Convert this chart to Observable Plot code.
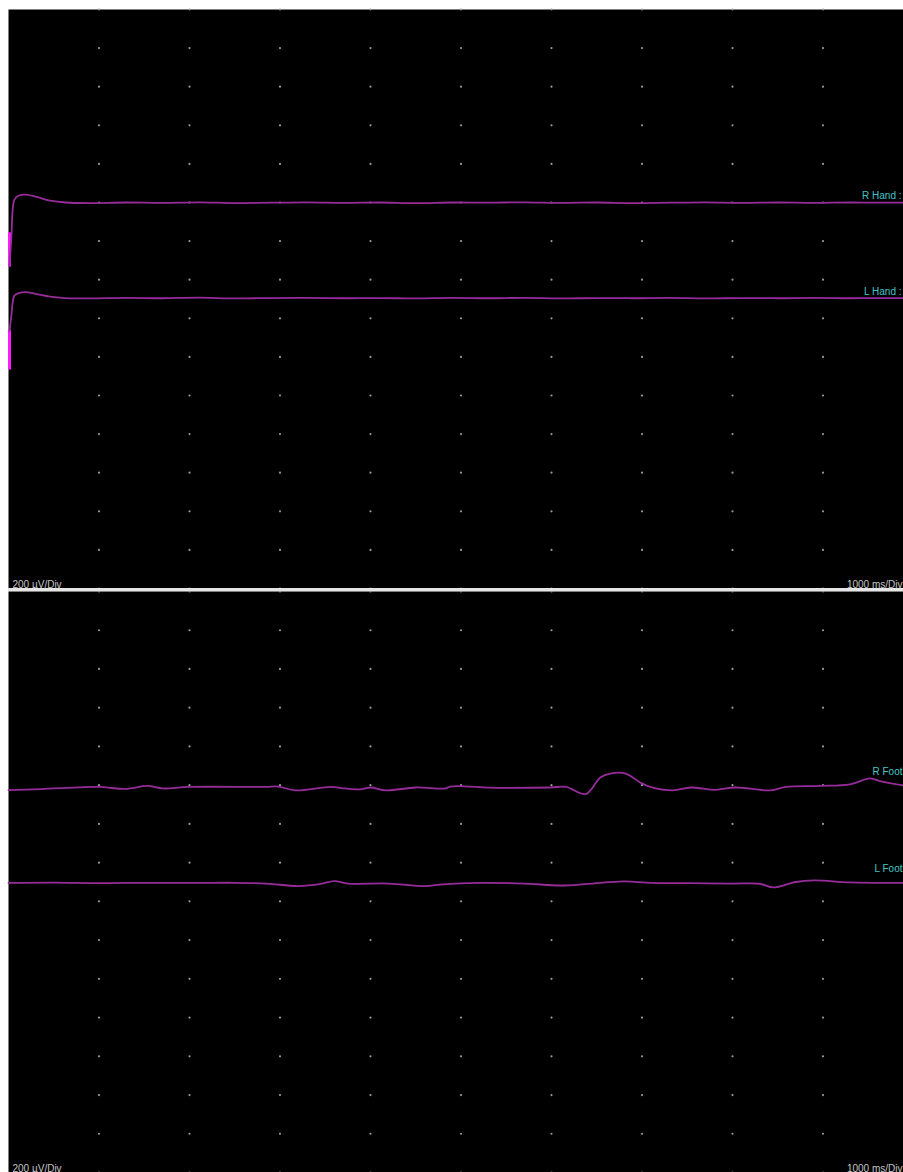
<!DOCTYPE html>
<html>
<head>
<meta charset="utf-8">
<script src="https://cdn.jsdelivr.net/npm/d3@7"></script>
<script src="https://cdn.jsdelivr.net/npm/@observablehq/plot@0.6"></script>
<style>
  html, body { margin: 0; padding: 0; background: #ffffff; }
  #chart { width: 903px; height: 1172px; overflow: hidden; position: relative; }
  #chart svg { display: block; }
  .sep { height: 3px; background: #e4e4e4; margin-left: 8px; }
</style>
</head>
<body>
<div id="chart"></div>
<script>
// ---- axes: 1000 ms/Div (10 divisions), 200 µV/Div (15 divisions per panel)
const timeDivisions = [1000, 2000, 3000, 4000, 5000, 6000, 7000, 8000, 9000];
const voltDivisions = [-1500, -1300, -1100, -900, -700, -500, -300, -100, 100, 300, 500, 700, 900, 1100, 1300, 1500];
const timeDomain = [0, 10000];
const voltDomain = [-1500, 1500];
const voltScaleLabel = "200 µV/Div";
const timeScaleLabel = "1000 ms/Div";

// ---- channel traces: [time ms, µV]
const rHand = [
  [11, 170], [33, 330], [44, 450], [66, 515], [110, 535], [190, 541], [300, 530], [460, 510], [630, 500],
  [900, 497], [1300, 500], [1700, 498], [2100, 501], [2500, 497], [2900, 499], [3300, 501], [3700, 498],
  [4100, 500], [4500, 497], [4900, 500], [5300, 499], [5700, 501], [6100, 498], [6500, 500], [6900, 497],
  [7300, 499], [7700, 501], [8100, 498], [8500, 500], [8900, 498], [9300, 500], [9700, 499], [10000, 500]
];
const lHand = [
  [11, -165], [33, -80], [44, -25], [66, 18], [110, 30], [190, 36], [300, 27], [460, 12], [630, 5],
  [900, 3], [1300, 6], [1700, 4], [2100, 7], [2500, 3], [2900, 5], [3300, 6], [3700, 4],
  [4100, 5], [4500, 3], [4900, 6], [5300, 4], [5700, 6], [6100, 3], [6500, 5], [6900, 4],
  [7300, 6], [7700, 3], [8100, 5], [8500, 4], [8900, 6], [9300, 4], [9700, 5], [10000, 4]
];
const rFoot = [
  [0, 474], [280, 478], [990, 491], [1290, 481], [1540, 496], [1700, 483], [1990, 491], [2840, 491],
  [2980, 493], [3170, 473], [3560, 491], [3720, 483], [3890, 478], [4000, 488], [4170, 473], [4500, 488],
  [4830, 483], [4880, 493], [5400, 486], [5990, 488], [6160, 491], [6380, 454], [6540, 540], [6650, 560],
  [6820, 560], [6980, 514], [7090, 491], [7340, 473], [7540, 488], [7810, 476], [8030, 488], [8420, 473],
  [8590, 491], [8970, 496], [9300, 504], [9520, 535], [9640, 519], [9890, 499], [10000, 495]
];
const lFoot = [
  [0, -5], [500, -3], [1000, -6], [1500, -4], [2000, -5], [2500, -4], [2850, -8], [3200, -21],
  [3450, -10], [3600, 5], [3750, -8], [4200, -8], [4600, -21], [4800, -12], [5200, -5], [5700, -8],
  [6100, -18], [6400, -10], [6800, 3], [7100, -5], [7500, -6], [8000, -8], [8300, -9], [8450, -28],
  [8700, 0], [8900, 8], [9300, -2], [9900, -5], [10000, -5]
];

// stimulus artifact at trace start: [time ms, low µV, high µV]
const rHandArtifact = [11, 166, 343];
const lHandArtifact = [11, -368, -161];

// channel names and baselines (µV)
const handNames = ["R Hand :", "L Hand :"];
const footNames = ["R Foot", "L Foot"];
const baselines = [500, 0];

// ---- styling
const traceColor = "#962c9a";
const artifactColor = "#ff1cff";
const labelColor = "#47c4c4";
const gridColor = "#9a9a9a";
const textColor = "#c4c4c4";

const gridPoints = d3.cross(timeDivisions, voltDivisions).map(([t, v]) => ({t, v}));
const toRows = (name, pairs) => pairs.map(([t, v]) => ({name, t, v}));

function panel({traces, artifacts, names, height, marginTop, labelDx, labelDy}) {
  const rows = traces.flatMap(([n, p]) => toRows(n, p));
  const labels = names.map((name, i) => ({name, v: baselines[i]}));
  const arts = artifacts.map(([t, lo, hi]) => ({t, lo, hi}));
  return Plot.plot({
    width: 903,
    height,
    marginTop,
    marginBottom: 0,
    marginLeft: 8,
    marginRight: 0,
    x: {domain: timeDomain, range: [8, 913], axis: null},
    y: {domain: voltDomain, axis: null},
    style: {background: "transparent", fontFamily: "'Liberation Sans', Arial, sans-serif", overflow: "hidden"},
    marks: [
      Plot.frame({fill: "#000000", stroke: "none"}),
      Plot.dot(gridPoints, {x: "t", y: "v", r: 1.1, fill: gridColor, stroke: "none"}),
      Plot.ruleX(arts, {x: "t", y1: "lo", y2: "hi", stroke: artifactColor, strokeWidth: 3}),
      Plot.line(rows, {x: "t", y: "v", z: "name", stroke: traceColor, strokeWidth: 1.8, curve: "catmull-rom"}),
      Plot.text(labels, {y: "v", text: "name", frameAnchor: "right", textAnchor: "end",
        dx: labelDx, dy: labelDy, fill: labelColor, fontSize: 10}),
      Plot.text([voltScaleLabel], {text: d => d, frameAnchor: "bottom-left", textAnchor: "start",
        lineAnchor: "bottom", dx: 4, dy: -1, fill: textColor, fontSize: 10}),
      Plot.text([timeScaleLabel], {text: d => d, frameAnchor: "bottom-right", textAnchor: "end",
        lineAnchor: "bottom", dx: -1, dy: -1, fill: textColor, fontSize: 10})
    ]
  });
}

const chart = document.getElementById("chart");
chart.appendChild(panel({
  traces: [["R Hand", rHand], ["L Hand", lHand]],
  artifacts: [rHandArtifact, lHandArtifact],
  names: handNames, height: 588, marginTop: 9, labelDx: -2, labelDy: -7
}));
const sep = document.createElement("div");
sep.className = "sep";
chart.appendChild(sep);
chart.appendChild(panel({
  traces: [["R Foot", rFoot], ["L Foot", lFoot]],
  artifacts: [],
  names: footNames, height: 581, marginTop: 0, labelDx: -1, labelDy: -13
}));
</script>
</body>
</html>
